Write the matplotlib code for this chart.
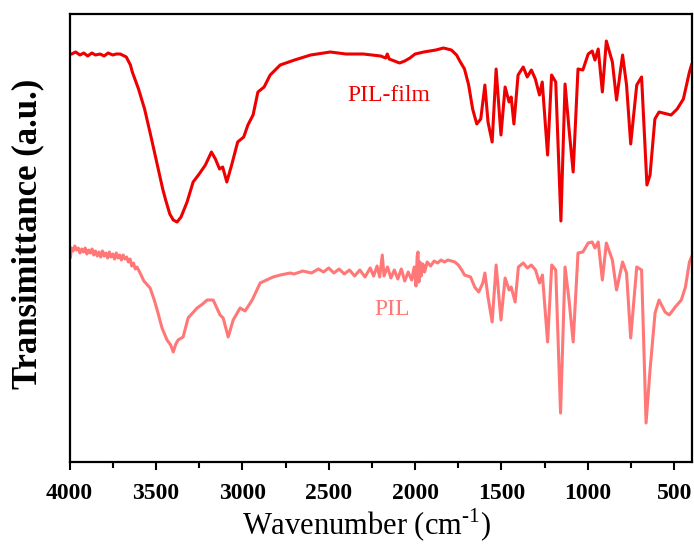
import matplotlib
matplotlib.use("Agg")
import matplotlib.pyplot as plt
from matplotlib.ticker import MultipleLocator

# PIL-film spectrum (wavenumber, transmittance a.u.)
film_wn = [4000, 3988, 3965, 3940, 3918, 3895, 3871, 3850, 3824, 3800, 3777, 3750, 3730, 3707, 3683, 3672,
           3648, 3637, 3601, 3566, 3531, 3496, 3461, 3444, 3420, 3400, 3378, 3355, 3320, 3285, 3250,
           3214, 3179, 3156, 3132, 3114, 3090, 3062, 3027, 2992, 2968, 2938, 2910, 2874, 2839,
           2781, 2698, 2605, 2491, 2400, 2300, 2200, 2170, 2161, 2150, 2120, 2090, 2060, 2030,
           2000, 1950, 1880, 1836, 1790, 1760, 1738,
           1714, 1690, 1667, 1643, 1620, 1596, 1578, 1554, 1531, 1503, 1479, 1456, 1444,
           1428, 1404, 1374, 1351, 1327, 1304, 1280, 1264, 1233, 1210, 1186, 1156, 1132, 1109,
           1085, 1057, 1029, 998, 975, 959, 940, 916, 893, 858, 834, 799, 776, 752, 717, 689,
           658, 640, 612, 588, 518, 483, 447, 412, 400]
film_t = [408, 408, 410, 407, 409, 406, 409, 407, 408, 406, 409, 407, 408, 408, 406, 405,
          397, 390, 373, 353, 327, 300, 273, 262, 248, 242, 240, 245, 260, 280, 288,
          297, 310, 303, 293, 295, 280, 297, 320, 325, 337, 347, 370, 375, 387,
          397, 402, 407, 410, 408, 408, 406, 404, 408, 403, 401, 399, 401, 404,
          408, 410, 412, 414, 412, 407, 400,
          393, 377, 353, 338, 343, 377, 340, 320, 393, 327, 375, 360, 365,
          338, 387, 395, 385, 392, 383, 367, 380, 307, 387, 380, 241, 378, 333,
          290, 393, 392, 408, 411, 402, 413, 370, 421, 400, 362, 407, 377, 318, 377, 385,
          277, 287, 343, 350, 347, 353, 363, 390, 397]

# PIL spectrum
pil_wn = [3995, 3990, 3980, 3970, 3960, 3950, 3940, 3930, 3920, 3910, 3900, 3890, 3880, 3870,
          3860, 3850, 3840, 3830, 3820, 3810, 3800, 3790, 3780, 3770, 3760, 3750, 3740, 3730,
          3720, 3710, 3700, 3690, 3680, 3670, 3660, 3650, 3640, 3630, 3620, 3610, 3592, 3570,
          3534, 3510, 3493, 3465, 3436, 3415, 3400, 3385, 3372, 3343, 3314, 3262, 3230, 3204,
          3169, 3129, 3111, 3082, 3053, 3013, 2984, 2943, 2897, 2860, 2822, 2780, 2723,
          2700, 2650, 2600, 2560, 2530, 2500, 2470, 2440, 2410, 2380, 2350, 2320, 2290, 2260,
          2240, 2220, 2205, 2190, 2180, 2160, 2140, 2120, 2100, 2080, 2060, 2040, 2020, 2005,
          1995, 1988, 1983, 1978, 1972, 1965, 1955, 1945, 1930, 1910, 1890, 1870, 1850, 1830,
          1810, 1790, 1770, 1750, 1730, 1714, 1679, 1655, 1632, 1608,
          1596, 1578, 1554, 1531, 1503, 1479, 1456, 1444, 1421, 1402, 1374, 1350, 1327, 1303,
          1280, 1263, 1233, 1209, 1186, 1158, 1132, 1109, 1085, 1057, 1029, 998, 975, 959,
          940, 916, 893, 858, 834, 799, 776, 752, 717, 689, 663, 640, 611, 588, 553, 529,
          494, 459, 435, 412, 400]
pil_t = [205, 214, 211, 216, 212, 214, 209, 213, 210, 214, 208, 212, 209, 213,
         207, 211, 206, 210, 205, 211, 206, 209, 204, 210, 205, 208, 203, 209,
         204, 207, 202, 207, 203, 205, 200, 203, 196, 199, 193, 195, 189, 181,
         174, 162, 152, 134, 122, 117, 110, 118, 122, 125, 144, 154, 158, 162,
         162, 147, 144, 125, 142, 154, 151, 162, 179, 182, 185, 187, 189,
         188, 191, 189, 193, 190, 194, 189, 193, 188, 192, 186, 192, 185, 194,
         186, 196, 185, 207, 186, 195, 184, 192, 183, 193, 181, 190, 182, 195,
         176, 206, 210, 180, 200, 186, 198, 190, 200, 196, 201, 199, 202, 200,
         202, 201, 200, 197, 192, 187, 185, 175, 170, 179,
         189, 165, 140, 197, 142, 184, 172, 175, 160, 195, 199, 194, 197, 192,
         179, 187, 120, 197, 192, 49, 195, 162, 120, 209, 210, 219, 220, 214,
         220, 182, 219, 202, 172, 200, 189, 124, 195, 192, 39, 92, 149, 162, 150, 147,
         155, 162, 175, 200, 205]

x_ticks = [4000, 3500, 3000, 2500, 2000, 1500, 1000, 500]

plt.rcParams['font.family'] = ['Liberation Serif', 'DejaVu Serif']
plt.rcParams['mathtext.fontset'] = 'custom'
plt.rcParams['mathtext.rm'] = 'Liberation Serif'

fig = plt.figure(figsize=(6.94, 5.47), dpi=100)
ax = fig.add_axes([0.1003, 0.1554, 0.8961, 0.8190])

ax.plot(film_wn, film_t, color='#ee0000', lw=2.2, solid_joinstyle='round')
ax.plot(pil_wn, pil_t, color='#ff7777', lw=2.2, solid_joinstyle='round')

ax.text(2150, 367, 'PIL-film', color='#ee0000', fontsize=17, ha='center', va='center')
ax.text(2135, 152, 'PIL', color='#ff7777', fontsize=17, ha='center', va='center')

ax.set_xlim(4000, 400)
ax.set_ylim(0, 448)
ax.set_xticks(x_ticks)
ax.set_xticklabels([str(v) for v in x_ticks], fontweight='bold', fontsize=17)
ax.xaxis.set_minor_locator(MultipleLocator(250))
ax.tick_params(axis='x', which='major', direction='out', length=6, width=1.5, pad=9)
ax.tick_params(axis='x', which='minor', direction='out', length=4, width=1.5)
ax.set_yticks([])
for s in ax.spines.values():
    s.set_linewidth(1.6)

ax.set_xlabel('Wavenumber (cm$^{\\text{-1}}$)', fontsize=22, x=0.477, labelpad=2)
ax.set_ylabel('Transimittance (a.u.)', fontsize=25, fontweight='bold')
ax.yaxis.set_label_coords(-0.041, 0.51)

fig.savefig('out.png', dpi=100)
